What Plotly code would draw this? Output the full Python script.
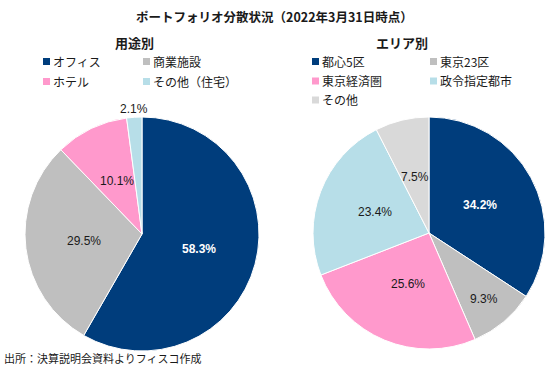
import math
import plotly.graph_objects as go

W, H = 551, 369

title_text = "ポートフォリオ分散状況（2022年3月31日時点）"
source_text = "出所：決算説明会資料よりフィスコ作成"

use_title = "用途別"
use_labels = ["オフィス", "商業施設", "ホテル", "その他（住宅）"]
use_values = [58.3, 29.5, 10.1, 2.1]
use_colors = ["#003D7C", "#BFBFBF", "#FF99CC", "#B7DEE8"]
use_textcolors = ["white", "#1a1a1a", "#1a1a1a", "#1a1a1a"]
use_label_r = [0.5, 0.5, 0.5, 1.07]

area_title = "エリア別"
area_labels = ["都心5区", "東京23区", "東京経済圏", "政令指定都市", "その他"]
area_values = [34.2, 9.3, 25.6, 23.4, 7.5]
area_colors = ["#003D7C", "#BFBFBF", "#FF99CC", "#B7DEE8", "#D9D9D9"]
area_textcolors = ["white", "#1a1a1a", "#1a1a1a", "#1a1a1a", "#1a1a1a"]
area_label_r = [0.5, 0.74, 0.48, 0.5, 0.5]

JP = "Noto Sans CJK JP"
NUM = "Liberation Sans Narrow, Arial Narrow, Liberation Sans, Arial"


def px(x):
    return x / W


def py(y):
    return 1 - y / H


# pie geometry in pixels: (center x, center y, radius)
use_geo = (142, 234, 117)
area_geo = (429, 233, 116)

fig = go.Figure()
annotations = []
shapes = []


def add_pie(labels, values, colors, textcolors, label_r, geo):
    cx, cy, r = geo
    fig.add_trace(go.Pie(
        labels=labels, values=values, sort=False, direction="clockwise", rotation=0,
        marker=dict(colors=colors, line=dict(color="white", width=1)),
        textinfo="none",
        domain=dict(x=[px(cx - r), px(cx + r)], y=[py(cy + r), py(cy - r)]),
        showlegend=False, hoverinfo="label+value",
    ))
    total = sum(values)
    cum = 0.0
    for v, tc, f in zip(values, textcolors, label_r):
        th = math.radians((cum + v / 2) / total * 360)
        cum += v
        lx = cx + f * r * math.sin(th)
        ly = cy - f * r * math.cos(th)
        txt = f"{v:.1f}%"
        if tc == "white":
            txt = "<b>" + txt + "</b>"
        annotations.append(dict(x=px(lx), y=py(ly), xref="paper", yref="paper",
                                text=txt, showarrow=False,
                                xanchor="center", yanchor="middle",
                                font=dict(family=NUM, size=12, color=tc)))


add_pie(use_labels, use_values, use_colors, use_textcolors, use_label_r, use_geo)
add_pie(area_labels, area_values, area_colors, area_textcolors, area_label_r, area_geo)

annotations.append(dict(x=px(274), y=py(16), xref="paper", yref="paper", text="<b>" + title_text + "</b>",
                        showarrow=False, xanchor="center", yanchor="middle",
                        font=dict(family=JP, size=12.5, color="#1a1a1a")))
annotations.append(dict(x=px(134), y=py(43), xref="paper", yref="paper", text="<b>" + use_title + "</b>",
                        showarrow=False, xanchor="center", yanchor="middle",
                        font=dict(family=JP, size=13, color="#1a1a1a")))
annotations.append(dict(x=px(402), y=py(43), xref="paper", yref="paper", text="<b>" + area_title + "</b>",
                        showarrow=False, xanchor="center", yanchor="middle",
                        font=dict(family=JP, size=13, color="#1a1a1a")))
annotations.append(dict(x=px(2), y=py(358), xref="paper", yref="paper", text=source_text,
                        showarrow=False, xanchor="left", yanchor="middle",
                        font=dict(family=JP, size=11, color="#1a1a1a")))


def add_legend(labels, colors, col_x, row_y):
    for i, (lab, col) in enumerate(zip(labels, colors)):
        cx = col_x[i % 2]
        cy = row_y[i // 2]
        shapes.append(dict(type="rect", xref="paper", yref="paper",
                           x0=px(cx), x1=px(cx + 7), y0=py(cy + 3.5), y1=py(cy - 3.5),
                           fillcolor=col, line=dict(width=0)))
        annotations.append(dict(x=px(cx + 8), y=py(cy), xref="paper", yref="paper", text=lab,
                                showarrow=False, xanchor="left", yanchor="middle",
                                font=dict(family=JP, size=12, color="#1a1a1a")))


add_legend(use_labels, use_colors, [43, 143], [61.5, 81.5])
add_legend(area_labels, area_colors, [312, 430], [61.5, 81, 100])

fig.update_layout(
    width=W, height=H, margin=dict(l=0, r=0, t=0, b=0),
    paper_bgcolor="white", plot_bgcolor="white",
    annotations=annotations, shapes=shapes,
    showlegend=False,
)

fig.write_html("out.html", config={"displayModeBar": False},
               post_script="document.body.style.margin='0';document.body.style.overflow='hidden';")
